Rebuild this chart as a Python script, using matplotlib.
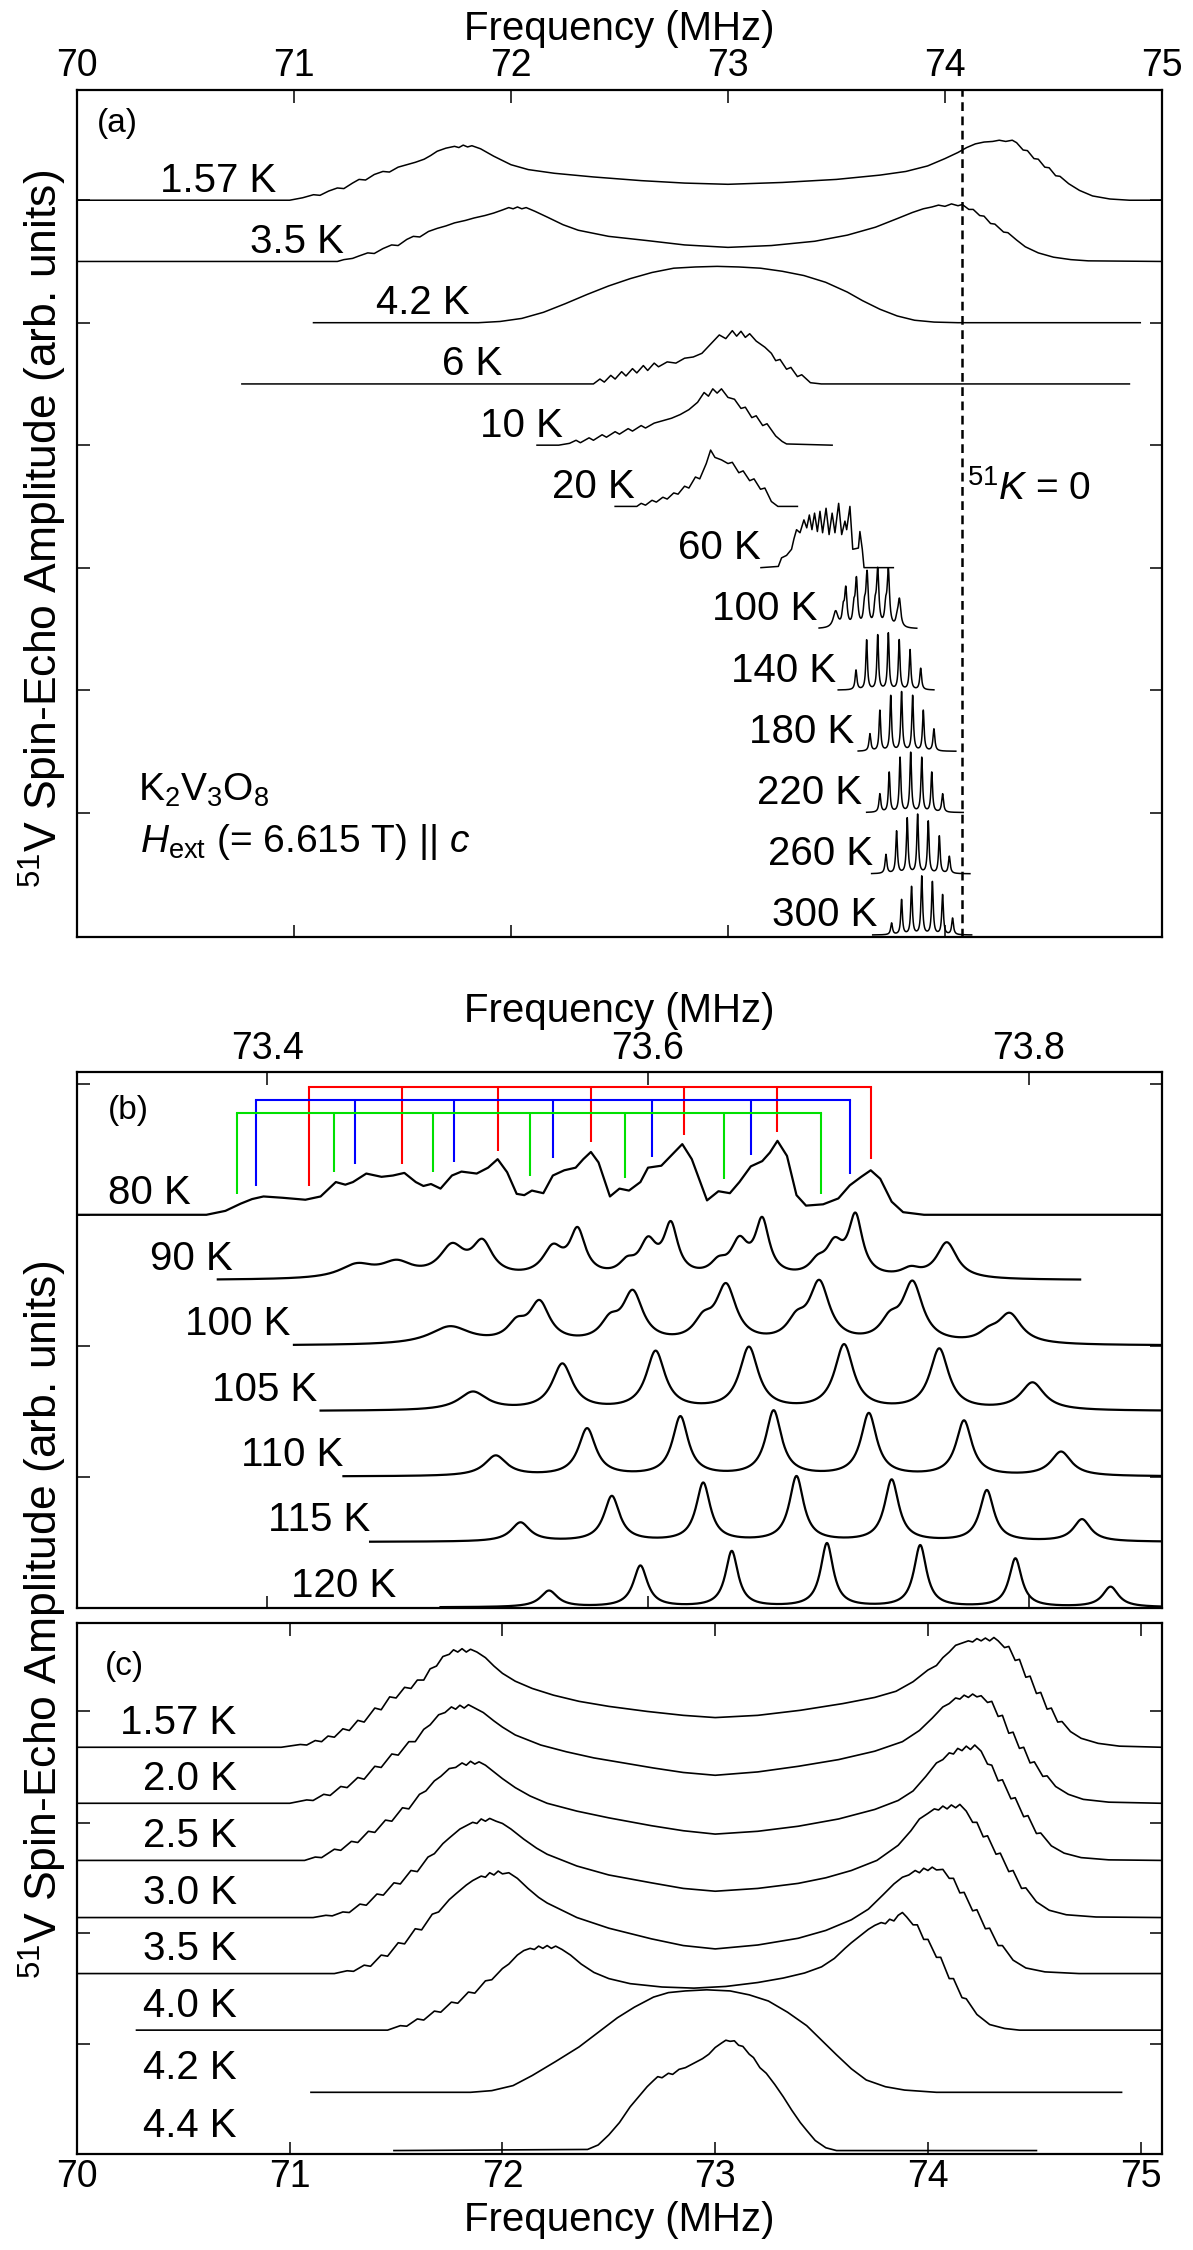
import numpy as np
import matplotlib.pyplot as plt

plt.rcParams['font.family'] = ['Liberation Sans', 'DejaVu Sans']
plt.rcParams['mathtext.fontset'] = 'custom'
plt.rcParams['mathtext.rm'] = 'Liberation Sans'
plt.rcParams['mathtext.it'] = 'Liberation Sans:italic'
plt.rcParams['mathtext.bf'] = 'Liberation Sans:bold'

# ---------------- panel (a) ----------------
# labels from top (1.57 K) to bottom (300 K); baseline offset = 12 - index
a_labels = ['1.57 K', '3.5 K', '4.2 K', '6 K', '10 K', '20 K', '60 K',
            '100 K', '140 K', '180 K', '220 K', '260 K', '300 K']
a_label_x = [70.92, 71.23, 71.81, 71.96, 72.24, 72.57, 73.15,
             73.41, 73.50, 73.58, 73.62, 73.67, 73.69]

# broad spectra as (MHz, amplitude) vertices
a_1p57K = [(70.0, 0), (70.98, 0), (71.04, 0.04), (71.09, 0.09), (71.12, 0.08), (71.16, 0.15),
           (71.20, 0.20), (71.23, 0.19), (71.27, 0.28), (71.30, 0.34), (71.33, 0.33),
           (71.37, 0.42), (71.41, 0.47), (71.44, 0.46), (71.48, 0.54), (71.52, 0.58),
           (71.56, 0.62), (71.60, 0.67), (71.63, 0.73), (71.66, 0.80), (71.70, 0.85),
           (71.74, 0.88), (71.76, 0.86), (71.78, 0.90), (71.80, 0.87), (71.82, 0.89),
           (71.86, 0.84), (71.92, 0.72), (72.00, 0.58), (72.08, 0.50), (72.20, 0.44),
           (72.38, 0.38), (72.60, 0.32), (72.80, 0.28), (73.00, 0.26), (73.25, 0.29),
           (73.50, 0.34), (73.70, 0.41), (73.82, 0.47), (73.92, 0.56), (74.00, 0.68),
           (74.06, 0.78), (74.10, 0.86), (74.14, 0.92), (74.18, 0.95), (74.22, 0.96),
           (74.25, 0.98), (74.28, 0.96), (74.31, 0.98), (74.33, 0.94), (74.36, 0.82),
           (74.38, 0.81), (74.41, 0.68), (74.43, 0.67), (74.46, 0.54), (74.48, 0.53),
           (74.51, 0.40), (74.53, 0.39), (74.57, 0.27), (74.62, 0.16), (74.68, 0.07),
           (74.76, 0.02), (74.85, 0), (75.0, 0)]
a_3p5K = [(70.0, 0), (71.20, 0), (71.23, 0.03), (71.27, 0.05), (71.30, 0.09), (71.34, 0.14),
          (71.37, 0.13), (71.41, 0.21), (71.45, 0.27), (71.48, 0.26), (71.52, 0.36),
          (71.55, 0.41), (71.58, 0.40), (71.62, 0.49), (71.66, 0.54), (71.70, 0.58),
          (71.74, 0.63), (71.79, 0.67), (71.83, 0.71), (71.88, 0.75), (71.92, 0.79),
          (71.96, 0.84), (71.99, 0.88), (72.01, 0.86), (72.03, 0.89), (72.05, 0.86),
          (72.07, 0.88), (72.11, 0.82), (72.17, 0.72), (72.24, 0.60), (72.31, 0.51),
          (72.45, 0.41), (72.63, 0.34), (72.80, 0.27), (73.00, 0.23), (73.20, 0.26),
          (73.40, 0.33), (73.55, 0.43), (73.68, 0.56), (73.78, 0.70), (73.85, 0.80),
          (73.90, 0.86), (73.94, 0.89), (73.97, 0.92), (74.00, 0.90), (74.03, 0.94),
          (74.06, 0.91), (74.08, 0.93), (74.11, 0.85), (74.13, 0.85), (74.16, 0.75),
          (74.18, 0.74), (74.21, 0.62), (74.23, 0.61), (74.27, 0.48), (74.29, 0.47),
          (74.33, 0.35), (74.37, 0.24), (74.43, 0.14), (74.50, 0.07), (74.58, 0.03),
          (74.66, 0.01), (75.0, 0)]
a_4p2K = [(71.09, 0), (71.85, 0), (71.95, 0.02), (72.05, 0.07), (72.15, 0.17), (72.25, 0.31),
          (72.35, 0.46), (72.45, 0.60), (72.55, 0.72), (72.65, 0.82), (72.75, 0.89),
          (72.85, 0.91), (72.95, 0.92), (73.05, 0.91), (73.15, 0.89), (73.25, 0.84),
          (73.35, 0.77), (73.45, 0.66), (73.55, 0.50), (73.62, 0.36), (73.70, 0.22),
          (73.78, 0.11), (73.86, 0.04), (73.95, 0.01), (74.06, 0), (74.90, 0)]
a_6K = [(70.76, 0), (72.38, 0), (72.41, 0.08), (72.43, 0.03), (72.46, 0.14),
        (72.48, 0.08), (72.51, 0.20), (72.53, 0.13), (72.56, 0.25), (72.58, 0.18),
        (72.61, 0.30), (72.63, 0.22), (72.66, 0.34), (72.68, 0.28), (72.72, 0.36),
        (72.76, 0.34), (72.80, 0.42), (72.84, 0.44), (72.88, 0.50), (72.92, 0.65),
        (72.96, 0.80), (72.99, 0.74), (73.02, 0.87), (73.04, 0.78), (73.06, 0.86),
        (73.08, 0.76), (73.10, 0.82), (73.13, 0.70), (73.17, 0.60), (73.20, 0.50),
        (73.22, 0.38), (73.24, 0.40), (73.27, 0.24), (73.29, 0.27), (73.32, 0.12),
        (73.34, 0.15), (73.38, 0.02), (73.43, 0), (74.85, 0)]
a_10K = [(72.12, 0), (72.22, 0), (72.27, 0.03), (72.30, 0.08), (72.32, 0.04),
         (72.36, 0.12), (72.38, 0.08), (72.42, 0.17), (72.44, 0.13), (72.48, 0.22),
         (72.50, 0.18), (72.54, 0.27), (72.56, 0.23), (72.60, 0.32), (72.62, 0.28),
         (72.66, 0.36), (72.70, 0.40), (72.74, 0.44), (72.78, 0.50), (72.82, 0.58),
         (72.86, 0.70), (72.89, 0.86), (72.91, 0.80), (72.93, 0.92), (72.95, 0.85),
         (72.97, 0.92), (73.00, 0.78), (73.03, 0.75), (73.06, 0.60), (73.08, 0.62),
         (73.11, 0.45), (73.13, 0.48), (73.16, 0.32), (73.18, 0.35), (73.22, 0.15),
         (73.25, 0.06), (73.27, 0.02), (73.48, 0)]
a_20K = [(72.48, 0), (72.58, 0), (72.60, 0.05), (72.62, 0.02), (72.65, 0.10),
         (72.67, 0.07), (72.70, 0.15), (72.72, 0.12), (72.75, 0.22), (72.77, 0.20),
         (72.80, 0.33), (72.82, 0.30), (72.85, 0.48), (72.87, 0.45), (72.90, 0.70),
         (72.92, 0.92), (72.94, 0.80), (72.97, 0.76), (73.00, 0.70), (73.02, 0.72),
         (73.05, 0.55), (73.07, 0.58), (73.10, 0.42), (73.12, 0.45), (73.15, 0.28),
         (73.17, 0.30), (73.20, 0.08), (73.23, 0), (73.32, 0)]
a_60K = [(73.152, 0), (73.232, 0.02), (73.247, 0.16), (73.270, 0.20), (73.293, 0.30),
         (73.304, 0.47), (73.316, 0.62), (73.332, 0.57), (73.350, 0.78), (73.363, 0.65),
         (73.375, 0.86), (73.387, 0.62), (73.399, 0.89), (73.412, 0.59), (73.424, 0.92),
         (73.436, 0.57), (73.452, 0.97), (73.466, 0.54), (73.480, 0.89), (73.493, 0.57),
         (73.510, 1.05), (73.524, 0.54), (73.539, 0.76), (73.547, 0.62), (73.562, 1.00),
         (73.575, 0.30), (73.601, 0.32), (73.608, 0.59), (73.619, 0.30), (73.627, 0),
         (73.762, 0)]

# resolved spectra: frequency span and (centre, height, FWHM) of each line
a_100K_span = (73.42, 73.87)
a_140K_span = (73.508, 73.949)
a_140K_peaks = [(73.590, 0.32, 0.010), (73.639, 0.81, 0.009), (73.690, 0.89, 0.009),
                (73.739, 0.92, 0.009), (73.789, 0.81, 0.009), (73.839, 0.65, 0.009),
                (73.888, 0.35, 0.010)]
a_180K_span = (73.600, 74.050)
a_180K_peaks = [(73.654, 0.28, 0.010), (73.700, 0.66, 0.009), (73.750, 0.90, 0.009),
                (73.800, 0.96, 0.009), (73.851, 0.90, 0.009), (73.900, 0.66, 0.009),
                (73.949, 0.36, 0.010)]
a_220K_span = (73.639, 74.084)
a_220K_peaks = [(73.700, 0.30, 0.010), (73.743, 0.65, 0.009), (73.793, 0.89, 0.009),
                (73.842, 0.97, 0.009), (73.893, 0.89, 0.009), (73.939, 0.65, 0.009),
                (73.989, 0.30, 0.010)]
a_260K_span = (73.662, 74.115)
a_260K_peaks = [(73.728, 0.31, 0.010), (73.777, 0.69, 0.009), (73.826, 0.90, 0.009),
                (73.874, 0.96, 0.009), (73.923, 0.85, 0.009), (73.974, 0.61, 0.009),
                (74.020, 0.28, 0.010)]
a_300K_span = (73.667, 74.123)
a_300K_peaks = [(73.754, 0.19, 0.010), (73.800, 0.57, 0.009), (73.846, 0.78, 0.009),
                (73.893, 0.95, 0.009), (73.942, 0.86, 0.009), (73.989, 0.65, 0.009),
                (74.035, 0.27, 0.010)]

a_k0 = 74.08  # 51K = 0 position

# ---------------- panel (b) ----------------
b_labels = ['80 K', '90 K', '100 K', '105 K', '110 K', '115 K', '120 K']
b_label_x = [73.360, 73.382, 73.412, 73.426, 73.440, 73.454, 73.468]

b_80K = [(73.30, 0), (73.368, 0), (73.378, 0.06), (73.386, 0.17), (73.392, 0.24),
         (73.398, 0.28), (73.408, 0.26), (73.420, 0.23), (73.428, 0.28), (73.436, 0.50),
         (73.441, 0.46), (73.445, 0.50), (73.452, 0.63), (73.460, 0.58), (73.466, 0.60),
         (73.472, 0.64), (73.478, 0.50), (73.482, 0.44), (73.486, 0.47), (73.491, 0.40),
         (73.497, 0.60), (73.502, 0.66), (73.510, 0.63), (73.516, 0.72), (73.521, 0.85),
         (73.526, 0.65), (73.531, 0.32), (73.535, 0.30), (73.539, 0.37), (73.545, 0.33),
         (73.550, 0.60), (73.556, 0.68), (73.562, 0.72), (73.566, 0.85), (73.570, 0.96),
         (73.574, 0.80), (73.580, 0.28), (73.585, 0.40), (73.590, 0.37), (73.596, 0.50),
         (73.600, 0.72), (73.607, 0.75), (73.612, 0.90), (73.618, 1.08), (73.623, 0.85),
         (73.631, 0.22), (73.637, 0.36), (73.643, 0.33), (73.648, 0.50), (73.654, 0.74),
         (73.660, 0.82), (73.664, 0.95), (73.668, 1.13), (73.673, 0.90), (73.678, 0.30),
         (73.683, 0.14), (73.692, 0.16), (73.700, 0.25), (73.706, 0.45), (73.712, 0.58),
         (73.717, 0.68), (73.722, 0.55), (73.728, 0.20), (73.734, 0.04), (73.745, 0),
         (73.87, 0)]
b_90K_span = (73.374, 73.827)
b_90K_peaks = [(73.447, 0.20, 0.022), (73.468, 0.22, 0.020), (73.497, 0.45, 0.016),
               (73.513, 0.50, 0.013), (73.550, 0.42, 0.013), (73.563, 0.68, 0.010),
               (73.589, 0.18, 0.010), (73.600, 0.50, 0.011), (73.612, 0.76, 0.009),
               (73.637, 0.18, 0.010), (73.648, 0.50, 0.011), (73.660, 0.83, 0.009),
               (73.689, 0.18, 0.010), (73.698, 0.45, 0.011), (73.709, 0.90, 0.009),
               (73.738, 0.12, 0.012), (73.757, 0.55, 0.013)]
b_100K_span = (73.414, 73.87)
b_100K_peaks = [(73.496, 0.27, 0.026), (73.531, 0.25, 0.012), (73.543, 0.60, 0.013),
                (73.580, 0.28, 0.012), (73.592, 0.75, 0.013), (73.629, 0.28, 0.012),
                (73.641, 0.85, 0.013), (73.678, 0.28, 0.012), (73.690, 0.90, 0.013),
                (73.727, 0.28, 0.012), (73.739, 0.90, 0.013), (73.779, 0.12, 0.012),
                (73.790, 0.45, 0.015)]
b_105K_span = (73.428, 73.87)
b_105K_peaks = [(73.508, 0.28, 0.018), (73.555, 0.70, 0.013), (73.604, 0.89, 0.012),
                (73.653, 0.95, 0.012), (73.703, 0.99, 0.012), (73.753, 0.93, 0.012),
                (73.802, 0.42, 0.015)]
b_110K_span = (73.440, 73.87)
b_110K_peaks = [(73.520, 0.31, 0.014), (73.568, 0.72, 0.011), (73.617, 0.90, 0.010),
                (73.666, 0.99, 0.010), (73.716, 0.95, 0.010), (73.766, 0.84, 0.010),
                (73.817, 0.37, 0.013)]
b_115K_span = (73.454, 73.87)
b_115K_peaks = [(73.533, 0.29, 0.012), (73.581, 0.69, 0.010), (73.629, 0.89, 0.009),
                (73.678, 0.99, 0.009), (73.728, 0.94, 0.009), (73.778, 0.78, 0.009),
                (73.828, 0.34, 0.011)]
b_120K_span = (73.491, 73.87)
b_120K_peaks = [(73.548, 0.25, 0.011), (73.596, 0.63, 0.009), (73.644, 0.85, 0.008),
                (73.694, 0.97, 0.008), (73.743, 0.94, 0.008), (73.793, 0.74, 0.008),
                (73.843, 0.31, 0.010)]

# assignment combs above the 80 K spectrum
comb_red_x = [73.422, 73.471, 73.521, 73.570, 73.619, 73.668, 73.717]
comb_red_end = [6.44, 6.78, 6.98, 7.11, 7.22, 7.27, 6.86]
comb_blue_x = [73.394, 73.446, 73.498, 73.550, 73.602, 73.654, 73.706]
comb_blue_end = [6.44, 6.78, 6.81, 6.87, 6.89, 6.91, 6.62]
comb_green_x = [73.384, 73.435, 73.487, 73.538, 73.588, 73.640, 73.691]
comb_green_end = [6.31, 6.66, 6.66, 6.59, 6.56, 6.54, 6.31]
comb_bar_y = [7.96, 7.75, 7.56]

# ---------------- panel (c) ----------------
c_labels = ['1.57 K', '2.0 K', '2.5 K', '3.0 K', '3.5 K', '4.0 K', '4.2 K', '4.4 K']
c_offsets = [7.22, 6.22, 5.20, 4.18, 3.18, 2.17, 1.06, 0.02]

c_1p57K = [(70.0, 0), (70.96, 0), (71.05, 0.05), (71.08, 0.04), (71.12, 0.12), (71.15, 0.10),
           (71.18, 0.20), (71.21, 0.18), (71.25, 0.33), (71.28, 0.30), (71.32, 0.48),
           (71.35, 0.45), (71.40, 0.70), (71.43, 0.67), (71.47, 0.90), (71.50, 0.88),
           (71.54, 1.07), (71.57, 1.05), (71.60, 1.20), (71.63, 1.20), (71.66, 1.40),
           (71.69, 1.45), (71.72, 1.62), (71.75, 1.66), (71.77, 1.74), (71.79, 1.70),
           (71.81, 1.76), (71.83, 1.70), (71.85, 1.75), (71.88, 1.70), (71.92, 1.60),
           (71.96, 1.45), (72.00, 1.32), (72.06, 1.18), (72.14, 1.05), (72.24, 0.93),
           (72.36, 0.82), (72.50, 0.73), (72.68, 0.64), (72.85, 0.57), (73.00, 0.53),
           (73.20, 0.57), (73.40, 0.66), (73.60, 0.78), (73.75, 0.89), (73.85, 1.00),
           (73.93, 1.17), (74.00, 1.38), (74.04, 1.46), (74.07, 1.60), (74.10, 1.70),
           (74.13, 1.82), (74.16, 1.86), (74.19, 1.90), (74.21, 1.88), (74.23, 1.94),
           (74.25, 1.90), (74.27, 1.95), (74.29, 1.90), (74.31, 1.96), (74.33, 1.90),
           (74.36, 1.78), (74.38, 1.80), (74.41, 1.55), (74.43, 1.57), (74.46, 1.25),
           (74.48, 1.27), (74.51, 0.96), (74.53, 0.98), (74.56, 0.68), (74.58, 0.70),
           (74.61, 0.45), (74.63, 0.46), (74.67, 0.28), (74.72, 0.16), (74.80, 0.07),
           (74.90, 0.02), (75.1, 0)]
c_2p0K = [(70.0, 0), (71.00, 0), (71.08, 0.06), (71.11, 0.05), (71.16, 0.16), (71.19, 0.14),
          (71.24, 0.30), (71.27, 0.28), (71.32, 0.46), (71.35, 0.43), (71.40, 0.66),
          (71.43, 0.64), (71.48, 0.88), (71.51, 0.86), (71.56, 1.10), (71.59, 1.10),
          (71.63, 1.32), (71.66, 1.40), (71.70, 1.58), (71.73, 1.62), (71.76, 1.72),
          (71.78, 1.68), (71.80, 1.75), (71.82, 1.70), (71.84, 1.76), (71.87, 1.70),
          (71.91, 1.62), (71.96, 1.47), (72.00, 1.36), (72.06, 1.22), (72.18, 1.04),
          (72.30, 0.92), (72.43, 0.81), (72.57, 0.72), (72.71, 0.63), (72.85, 0.55),
          (73.00, 0.50), (73.20, 0.56), (73.39, 0.66), (73.58, 0.78), (73.75, 0.93),
          (73.88, 1.10), (73.96, 1.30), (74.02, 1.52), (74.07, 1.72), (74.10, 1.78),
          (74.13, 1.88), (74.15, 1.86), (74.17, 1.93), (74.19, 1.89), (74.21, 1.95),
          (74.23, 1.90), (74.25, 1.92), (74.28, 1.80), (74.30, 1.82), (74.33, 1.55),
          (74.35, 1.57), (74.38, 1.25), (74.40, 1.27), (74.43, 0.98), (74.45, 1.00),
          (74.48, 0.72), (74.50, 0.74), (74.54, 0.48), (74.56, 0.49), (74.60, 0.30),
          (74.66, 0.16), (74.73, 0.07), (74.85, 0.02), (75.1, 0)]
c_2p5K = [(70.0, 0), (71.07, 0), (71.12, 0.06), (71.15, 0.05), (71.21, 0.20), (71.24, 0.18),
          (71.29, 0.34), (71.32, 0.32), (71.37, 0.52), (71.40, 0.50), (71.45, 0.72),
          (71.48, 0.70), (71.53, 0.94), (71.56, 0.92), (71.61, 1.18), (71.64, 1.24),
          (71.68, 1.42), (71.71, 1.50), (71.75, 1.64), (71.78, 1.66), (71.81, 1.74),
          (71.83, 1.70), (71.85, 1.77), (71.87, 1.72), (71.89, 1.76), (71.92, 1.70),
          (71.96, 1.58), (72.00, 1.46), (72.06, 1.30), (72.13, 1.15), (72.21, 1.02),
          (72.35, 0.88), (72.50, 0.76), (72.70, 0.62), (72.85, 0.53), (73.00, 0.47),
          (73.20, 0.52), (73.39, 0.61), (73.58, 0.74), (73.75, 0.91), (73.86, 1.07),
          (73.93, 1.24), (73.99, 1.50), (74.04, 1.74), (74.07, 1.80), (74.10, 1.92),
          (74.12, 1.90), (74.14, 2.00), (74.16, 1.96), (74.18, 2.04), (74.20, 1.98),
          (74.22, 2.06), (74.25, 1.95), (74.28, 1.72), (74.30, 1.70), (74.33, 1.42),
          (74.35, 1.44), (74.39, 1.10), (74.41, 1.12), (74.45, 0.78), (74.47, 0.80),
          (74.51, 0.48), (74.53, 0.49), (74.58, 0.26), (74.64, 0.13), (74.72, 0.05),
          (74.85, 0.01), (75.1, 0)]
c_3p0K = [(70.0, 0), (71.11, 0), (71.17, 0.04), (71.20, 0.03), (71.25, 0.10), (71.28, 0.09),
          (71.33, 0.24), (71.36, 0.22), (71.41, 0.42), (71.44, 0.40), (71.49, 0.62),
          (71.52, 0.60), (71.57, 0.84), (71.60, 0.82), (71.65, 1.08), (71.68, 1.14),
          (71.72, 1.32), (71.75, 1.42), (71.80, 1.58), (71.83, 1.64), (71.86, 1.70),
          (71.88, 1.68), (71.90, 1.76), (71.92, 1.72), (71.94, 1.77), (71.97, 1.72),
          (72.00, 1.68), (72.04, 1.58), (72.10, 1.40), (72.16, 1.24), (72.21, 1.13),
          (72.35, 0.92), (72.50, 0.76), (72.70, 0.62), (72.85, 0.52), (73.00, 0.47),
          (73.20, 0.52), (73.39, 0.61), (73.52, 0.71), (73.64, 0.84), (73.76, 1.02),
          (73.86, 1.29), (73.92, 1.55), (73.96, 1.76), (74.00, 1.86), (74.03, 1.94),
          (74.05, 1.92), (74.07, 1.99), (74.09, 1.94), (74.11, 2.01), (74.13, 1.96),
          (74.15, 2.02), (74.18, 1.90), (74.21, 1.70), (74.23, 1.70), (74.26, 1.44),
          (74.28, 1.46), (74.32, 1.13), (74.34, 1.15), (74.38, 0.82), (74.40, 0.84),
          (74.44, 0.52), (74.46, 0.53), (74.51, 0.28), (74.57, 0.13), (74.65, 0.05),
          (74.79, 0.01), (75.1, 0)]
c_3p5K = [(70.0, 0), (71.21, 0), (71.27, 0.05), (71.30, 0.04), (71.35, 0.15), (71.38, 0.13),
          (71.43, 0.33), (71.46, 0.31), (71.51, 0.55), (71.54, 0.53), (71.59, 0.80),
          (71.62, 0.78), (71.67, 1.06), (71.70, 1.10), (71.75, 1.32), (71.78, 1.42),
          (71.83, 1.58), (71.86, 1.66), (71.90, 1.74), (71.92, 1.72), (71.94, 1.80),
          (71.96, 1.76), (71.98, 1.83), (72.00, 1.78), (72.03, 1.80), (72.07, 1.70),
          (72.12, 1.52), (72.17, 1.36), (72.21, 1.26), (72.35, 1.00), (72.50, 0.81),
          (72.70, 0.62), (72.85, 0.50), (73.00, 0.44), (73.20, 0.51), (73.39, 0.63),
          (73.52, 0.77), (73.64, 0.96), (73.72, 1.15), (73.79, 1.41), (73.84, 1.60),
          (73.88, 1.72), (73.91, 1.76), (73.94, 1.84), (73.96, 1.80), (73.98, 1.88),
          (74.00, 1.84), (74.02, 1.90), (74.04, 1.85), (74.07, 1.86), (74.10, 1.70),
          (74.12, 1.70), (74.15, 1.44), (74.17, 1.45), (74.21, 1.12), (74.23, 1.14),
          (74.27, 0.80), (74.29, 0.81), (74.33, 0.50), (74.35, 0.50), (74.40, 0.24),
          (74.46, 0.10), (74.55, 0.03), (74.71, 0), (75.1, 0)]
c_4p0K = [(70.28, 0), (71.46, 0), (71.52, 0.08), (71.55, 0.07), (71.60, 0.20), (71.63, 0.18),
          (71.68, 0.34), (71.71, 0.32), (71.76, 0.50), (71.79, 0.48), (71.84, 0.68),
          (71.87, 0.66), (71.92, 0.88), (71.95, 0.90), (72.00, 1.10), (72.03, 1.18),
          (72.07, 1.34), (72.10, 1.42), (72.13, 1.46), (72.15, 1.44), (72.17, 1.50),
          (72.19, 1.46), (72.21, 1.51), (72.23, 1.46), (72.25, 1.50), (72.28, 1.44),
          (72.32, 1.34), (72.37, 1.18), (72.43, 1.03), (72.50, 0.92), (72.60, 0.83),
          (72.75, 0.77), (72.90, 0.75), (73.05, 0.78), (73.20, 0.85), (73.32, 0.93),
          (73.42, 1.02), (73.50, 1.13), (73.56, 1.28), (73.61, 1.46), (73.64, 1.56),
          (73.68, 1.68), (73.72, 1.80), (73.75, 1.87), (73.78, 1.92), (73.80, 1.90),
          (73.82, 1.98), (73.84, 1.95), (73.86, 2.05), (73.88, 2.10), (73.90, 2.02),
          (73.93, 1.88), (73.95, 1.88), (73.98, 1.62), (74.00, 1.62), (74.04, 1.30),
          (74.06, 1.30), (74.10, 0.92), (74.12, 0.92), (74.16, 0.58), (74.18, 0.56),
          (74.23, 0.28), (74.29, 0.10), (74.36, 0.03), (74.43, 0), (75.1, 0)]
c_4p2K = [(71.10, 0), (71.85, 0), (71.95, 0.03), (72.05, 0.12), (72.14, 0.30), (72.25, 0.55),
          (72.36, 0.81), (72.45, 1.07), (72.54, 1.33), (72.62, 1.52), (72.71, 1.70),
          (72.78, 1.78), (72.86, 1.81), (72.96, 1.83), (73.07, 1.81), (73.16, 1.74),
          (73.25, 1.63), (73.34, 1.43), (73.43, 1.19), (73.50, 0.93), (73.57, 0.67),
          (73.64, 0.42), (73.71, 0.22), (73.80, 0.10), (73.89, 0.04), (74.04, 0),
          (74.91, 0)]
c_4p4K = [(71.49, 0), (72.40, 0.02), (72.45, 0.10), (72.50, 0.28), (72.55, 0.50),
          (72.60, 0.78), (72.64, 0.96), (72.68, 1.14), (72.71, 1.25), (72.73, 1.32),
          (72.75, 1.30), (72.78, 1.38), (72.80, 1.36), (72.83, 1.45), (72.86, 1.48),
          (72.90, 1.56), (72.94, 1.64), (72.97, 1.72), (73.00, 1.84), (73.03, 1.92),
          (73.05, 1.97), (73.07, 1.95), (73.09, 1.96), (73.11, 1.88), (73.13, 1.86),
          (73.16, 1.72), (73.18, 1.66), (73.21, 1.48), (73.24, 1.38), (73.28, 1.18),
          (73.32, 0.96), (73.36, 0.72), (73.40, 0.50), (73.43, 0.36), (73.47, 0.18),
          (73.52, 0.05), (73.57, 0), (74.51, 0)]


def line_spectrum(span, peaks):
    f = np.linspace(span[0], span[1], 1500)
    y = np.zeros_like(f)
    for c, h, w in peaks:
        y += h / (1 + ((f - c) / (w / 2)) ** 2)
    return f, y


def trace(t):
    if isinstance(t, tuple):
        return line_spectrum(*t)
    f, y = zip(*t)
    return np.array(f), np.array(y)


def style(ax, xt, yt):
    ax.set_xticks(xt)
    ax.set_yticks(yt)
    ax.tick_params(direction='in', top=True, right=True, length=9, width=1.1,
                   labelsize=27, pad=4)
    ax.tick_params(axis='y', labelleft=False)
    for s in ax.spines.values():
        s.set_linewidth(1.6)


FS = 29
fig = plt.figure(figsize=(11.93, 22.5), dpi=100)
left, width = 0.0645, 0.9095

# ----- (a)
ax = fig.add_axes([left, 0.5836, width, 0.9600 - 0.5836])
a_traces = [a_1p57K, a_3p5K, a_4p2K, a_6K, a_10K, a_20K, a_60K,
            (a_100K_span, b_100K_peaks), (a_140K_span, a_140K_peaks),
            (a_180K_span, a_180K_peaks), (a_220K_span, a_220K_peaks),
            (a_260K_span, a_260K_peaks), (a_300K_span, a_300K_peaks)]
for i, t in enumerate(a_traces):
    off = 12 - i
    f, y = trace(t)
    ax.plot(f, y + off, color='k', lw=1.1)
    ax.text(a_label_x[i], off + 0.32, a_labels[i], ha='right', va='center', fontsize=FS)
ax.axvline(a_k0, color='k', lw=1.8, ls=(0, (3.5, 2.2)))
ax.set_xlim(70, 75)
ax.set_ylim(-0.03, 13.80)
style(ax, [70, 71, 72, 73, 74, 75], [2, 4, 6, 8, 10, 12])
ax.tick_params(axis='x', labelbottom=False, labeltop=True)
ax.xaxis.set_label_position('top')
ax.set_xlabel('Frequency (MHz)', fontsize=FS, labelpad=6)
ax.text(70.09, 13.25, '(a)', fontsize=24, va='center')
ax.text(70.28, 2.37, r'K$_2$V$_3$O$_8$', fontsize=28, va='center')
ax.text(70.29, 1.52, r'$H_{\rm ext}$ (= 6.615 T) || $c$', fontsize=28, va='center')
ax.text(74.10, 7.28, r'$^{51}K$ = 0', fontsize=28, va='center')

# ----- (b)
ax = fig.add_axes([left, 0.2853, width, 0.5235 - 0.2853])
b_traces = [b_80K, (b_90K_span, b_90K_peaks), (b_100K_span, b_100K_peaks),
            (b_105K_span, b_105K_peaks), (b_110K_span, b_110K_peaks),
            (b_115K_span, b_115K_peaks), (b_120K_span, b_120K_peaks)]
for i, t in enumerate(b_traces):
    off = 6 - i
    f, y = trace(t)
    ax.plot(f, y + off, color='k', lw=1.6)
    ax.text(b_label_x[i], off + 0.33, b_labels[i], ha='right', va='center', fontsize=FS)
for xs, ends, yb, col in [(comb_red_x, comb_red_end, comb_bar_y[0], '#ff0000'),
                          (comb_blue_x, comb_blue_end, comb_bar_y[1], '#0000ff'),
                          (comb_green_x, comb_green_end, comb_bar_y[2], '#00e000')]:
    ax.plot([xs[0], xs[-1]], [yb, yb], color=col, lw=1.5)
    ax.vlines(xs, ends, yb, color=col, lw=1.5)
ax.set_xlim(73.30, 73.87)
ax.set_ylim(-0.01, 8.18)
style(ax, [73.4, 73.6, 73.8], [2, 4, 6, 8])
ax.tick_params(axis='x', labelbottom=False, labeltop=True)
ax.xaxis.set_label_position('top')
ax.set_xlabel('Frequency (MHz)', fontsize=FS, labelpad=6)
ax.text(73.316, 7.59, '(b)', fontsize=24, va='center')

# ----- (c)
ax = fig.add_axes([left, 0.0427, width, 0.2787 - 0.0427])
c_traces = [c_1p57K, c_2p0K, c_2p5K, c_3p0K, c_3p5K, c_4p0K, c_4p2K, c_4p4K]
for i, t in enumerate(c_traces):
    f, y = trace(t)
    ax.plot(f, y + c_offsets[i], color='k', lw=1.2)
    ax.text(70.75, c_offsets[i] + 0.43, c_labels[i], ha='right', va='center', fontsize=FS)
ax.set_xlim(70, 75.1)
ax.set_ylim(-0.04, 9.44)
style(ax, [70, 71, 72, 73, 74, 75], [1.93, 3.9, 5.87, 7.87])
ax.set_xlabel('Frequency (MHz)', fontsize=FS, labelpad=4)
ax.text(70.13, 8.67, '(c)', fontsize=24, va='center')

ylab = r'$^{51}$V Spin-Echo Amplitude (arb. units)'
fig.text(0.036, 0.765, ylab, rotation=90, ha='center', va='center', fontsize=32)
fig.text(0.036, 0.280, ylab, rotation=90, ha='center', va='center', fontsize=32)

fig.savefig('out.png', dpi=100)
